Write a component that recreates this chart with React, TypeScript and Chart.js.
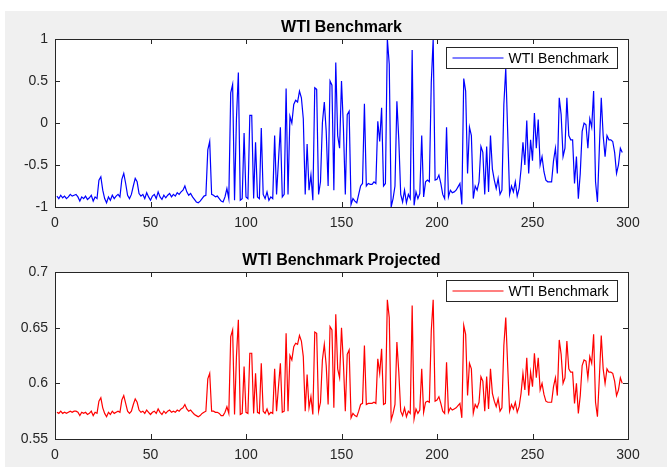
import React, { useEffect, useRef } from "react";
import { Chart, registerables } from "chart.js";

Chart.register(...registerables);

// WTI Benchmark (normalised), sample 1..297
const wtiValues: number[] = [
  -0.87, -0.9, -0.86, -0.89, -0.87, -0.9, -0.88, -0.85, -0.87, -0.86,
  -0.85, -0.88, -0.93, -0.88, -0.9, -0.87, -0.91, -0.89, -0.86, -0.93,
  -0.88, -0.9, -0.68, -0.64, -0.8, -0.9, -0.95, -0.88, -0.92, -0.86,
  -0.9, -0.87, -0.85, -0.88, -0.67, -0.6, -0.72, -0.86, -0.9, -0.85,
  -0.75, -0.66, -0.7, -0.84, -0.87, -0.85, -0.9, -0.83, -0.88, -0.92,
  -0.87, -0.85, -0.9, -0.82, -0.88, -0.91, -0.86, -0.89, -0.86, -0.84,
  -0.88, -0.85, -0.87, -0.83, -0.85, -0.82, -0.8, -0.75, -0.82, -0.86,
  -0.84, -0.88, -0.91, -0.94, -0.95, -0.93, -0.9, -0.87, -0.86, -0.32,
  -0.22, -0.85, -0.86, -0.88, -0.87, -0.9, -0.93, -0.94, -0.88, -0.78,
  -0.9, 0.36, 0.46, -0.92, 0.05, 0.6, -0.92, -0.9, -0.12, -0.88,
  -0.9, 0.09, 0.09, -0.9, -0.23, -0.88, -0.9, -0.06, -0.85, -0.9,
  -0.82, -0.92, -0.88, -0.9, -0.15, -0.85, -0.45, -0.05, -0.88, -0.85,
  0.41, -0.85, 0.08, 0.0, 0.22, 0.27, 0.25, 0.38, 0.3, 0.05,
  -0.85, -0.25, -0.8, -0.62, -0.92, 0.42, 0.4, -0.85, -0.7, 0.0,
  0.25, -0.1, -0.75, 0.5, 0.45, -0.8, 0.72, -0.15, -0.3, 0.5,
  -0.05, -0.85, 0.1, 0.14, -0.97, -0.9, -0.93, -0.95, -0.85, -0.75,
  -0.72, 0.23, -0.75, -0.72, -0.73, -0.73, -0.7, -0.72, 0.02, -0.22,
  0.18, -0.75, -0.72, 1.0, 0.7, -1.0, -0.9, -0.75, 0.26, -0.2,
  -0.85, -0.94, -0.8, -0.95, -0.85, -0.9, 0.87, -0.98, -0.82, -0.9,
  -0.84, -0.15, -0.88, -0.7, -0.68, -0.7, 0.48, 1.0, -0.68, -0.67,
  -0.62, -0.72, -0.85, -0.9, -0.05, -0.88, -0.8, -0.83, -0.82, -0.8,
  -0.76, -0.72, -0.97, 0.53, 0.38, -0.6, -0.05, -0.15, -0.9, -0.75,
  -0.8, -0.7, -0.28, -0.35, -0.85, -0.28, -0.82, -0.15, -0.55, -0.68,
  -0.78, -0.66, -0.85, -0.8, 0.22, 0.65, -0.1, -0.85, -0.75, -0.82,
  -0.7, -0.87, -0.78, -0.55, -0.23, -0.5, 0.03, -0.6, -0.2, -0.45,
  0.12, -0.3, 0.04, -0.5, -0.4, -0.58, -0.68, -0.7, -0.7, -0.7,
  -0.45, -0.3, -0.6, 0.3, 0.1, -0.4, -0.3, 0.3, -0.15, -0.2,
  -0.2, -0.72, -0.4, -0.9, -0.6, -0.1, 0.0, -0.02, -0.3, 0.05,
  -0.05, 0.38, -0.7, -0.94, -0.3, 0.3, -0.15, -0.4, -0.15, -0.2,
  -0.2, -0.22, -0.35, -0.6, -0.5, -0.3, -0.35,
];

// WTI Benchmark Projected, sample 1..297
const projectedValues: number[] = [
  0.574, 0.573, 0.575, 0.573, 0.574, 0.573, 0.574, 0.575, 0.574, 0.575,
  0.575, 0.574, 0.571, 0.574, 0.573, 0.574, 0.572, 0.573, 0.575, 0.571,
  0.574, 0.573, 0.584, 0.587, 0.578, 0.573, 0.57, 0.574, 0.572, 0.575,
  0.573, 0.574, 0.575, 0.574, 0.585, 0.589, 0.582, 0.575, 0.573, 0.575,
  0.581, 0.586, 0.583, 0.576, 0.574, 0.575, 0.573, 0.576, 0.574, 0.572,
  0.574, 0.575, 0.573, 0.577, 0.574, 0.572, 0.575, 0.573, 0.575, 0.576,
  0.574, 0.575, 0.574, 0.576, 0.575, 0.577, 0.578, 0.581, 0.577, 0.575,
  0.576, 0.574, 0.572, 0.571, 0.57, 0.571, 0.573, 0.574, 0.575, 0.604,
  0.609, 0.575, 0.575, 0.574, 0.574, 0.573, 0.571, 0.571, 0.574, 0.579,
  0.573, 0.642, 0.648, 0.572, 0.624, 0.657, 0.572, 0.573, 0.615, 0.574,
  0.573, 0.627, 0.627, 0.573, 0.609, 0.574, 0.573, 0.618, 0.575, 0.573,
  0.577, 0.572, 0.574, 0.573, 0.613, 0.575, 0.597, 0.618, 0.574, 0.575,
  0.645, 0.575, 0.625, 0.621, 0.633, 0.636, 0.635, 0.643, 0.638, 0.624,
  0.575, 0.608, 0.578, 0.588, 0.572, 0.646, 0.645, 0.575, 0.583, 0.621,
  0.635, 0.616, 0.581, 0.651, 0.648, 0.578, 0.662, 0.613, 0.605, 0.65,
  0.618, 0.575, 0.626, 0.63, 0.569, 0.573, 0.571, 0.57, 0.575, 0.581,
  0.582, 0.634, 0.581, 0.582, 0.582, 0.582, 0.583, 0.582, 0.622, 0.609,
  0.631, 0.581, 0.582, 0.675, 0.659, 0.567, 0.573, 0.581, 0.637, 0.61,
  0.575, 0.571, 0.578, 0.57, 0.575, 0.573, 0.67, 0.568, 0.577, 0.573,
  0.576, 0.613, 0.574, 0.583, 0.584, 0.583, 0.647, 0.675, 0.584, 0.585,
  0.588, 0.582, 0.575, 0.573, 0.619, 0.574, 0.578, 0.576, 0.577, 0.578,
  0.58, 0.582, 0.569, 0.652, 0.644, 0.589, 0.618, 0.613, 0.573, 0.581,
  0.578, 0.583, 0.606, 0.602, 0.575, 0.606, 0.577, 0.613, 0.591, 0.584,
  0.579, 0.586, 0.575, 0.578, 0.634, 0.659, 0.616, 0.575, 0.581, 0.577,
  0.583, 0.574, 0.579, 0.591, 0.609, 0.594, 0.623, 0.589, 0.61, 0.597,
  0.627, 0.605, 0.623, 0.594, 0.6, 0.59, 0.584, 0.583, 0.583, 0.583,
  0.597, 0.605, 0.589, 0.639, 0.626, 0.6, 0.605, 0.638, 0.613, 0.61,
  0.61, 0.582, 0.6, 0.573, 0.589, 0.616, 0.621, 0.62, 0.605, 0.624,
  0.618, 0.644, 0.583, 0.57, 0.605, 0.643, 0.613, 0.6, 0.613, 0.61,
  0.61, 0.609, 0.602, 0.589, 0.594, 0.605, 0.6,
];

const xTicks = [0, 50, 100, 150, 200, 250, 300];
const topYTicks = [-1, -0.5, 0, 0.5, 1];
const bottomYTicks = [0.55, 0.6, 0.65, 0.7];
const topTitle = "WTI Benchmark";
const bottomTitle = "WTI Benchmark Projected";
const legendLabel = "WTI Benchmark";

const FONT = "'Liberation Sans', Arial, Helvetica, sans-serif";
const AXIS_COLOR = "#262626";

const matlabPlugin = {
  id: "matlab",
  beforeDraw(chart: any) {
    const { ctx, chartArea: a } = chart;
    ctx.save();
    ctx.fillStyle = "#ffffff";
    ctx.fillRect(a.left, a.top, a.right - a.left, a.bottom - a.top);
    ctx.restore();
  },
  afterDraw(chart: any, _args: any, opts: any) {
    const { ctx, chartArea: a } = chart;
    const xs = chart.scales.x;
    const ys = chart.scales.y;
    ctx.save();
    // box
    ctx.strokeStyle = AXIS_COLOR;
    ctx.lineWidth = 1;
    ctx.strokeRect(Math.round(a.left) + 0.5, Math.round(a.top) + 0.5, Math.round(a.right - a.left), Math.round(a.bottom - a.top));
    // inward ticks
    const tl = 5;
    ctx.beginPath();
    (opts.xTicks as number[]).forEach((v) => {
      const px = Math.round(xs.getPixelForValue(v)) + 0.5;
      ctx.moveTo(px, a.bottom);
      ctx.lineTo(px, a.bottom - tl);
      ctx.moveTo(px, a.top);
      ctx.lineTo(px, a.top + tl);
    });
    (opts.yTicks as number[]).forEach((v) => {
      const py = Math.round(ys.getPixelForValue(v)) + 0.5;
      ctx.moveTo(a.left, py);
      ctx.lineTo(a.left + tl, py);
      ctx.moveTo(a.right, py);
      ctx.lineTo(a.right - tl, py);
    });
    ctx.stroke();
    // title
    ctx.fillStyle = "#000000";
    ctx.font = `bold 16px ${FONT}`;
    ctx.textAlign = "center";
    ctx.textBaseline = "middle";
    ctx.fillText(opts.title, (a.left + a.right) / 2, a.top - 11);
    // legend
    const bw = 171;
    const bh = 21;
    const bx = Math.round(a.right - 11 - bw) + 0.5;
    const by = Math.round(a.top + 8) + 0.5;
    ctx.fillStyle = "#ffffff";
    ctx.fillRect(bx, by, bw, bh);
    ctx.strokeStyle = AXIS_COLOR;
    ctx.strokeRect(bx, by, bw, bh);
    ctx.strokeStyle = opts.color;
    ctx.lineWidth = 1.2;
    ctx.beginPath();
    ctx.moveTo(bx + 6, by + bh / 2);
    ctx.lineTo(bx + 57, by + bh / 2);
    ctx.stroke();
    ctx.fillStyle = "#000000";
    ctx.font = `14px ${FONT}`;
    ctx.textAlign = "left";
    ctx.fillText(opts.label, bx + 62, by + bh / 2 + 1);
    ctx.restore();
  },
};

function makeChart(
  canvas: HTMLCanvasElement,
  values: number[],
  color: string,
  yMin: number,
  yMax: number,
  yStep: number,
  yTicks: number[],
  title: string,
  xAxisHeight: number
) {
  const points = values.map((v, i) => ({ x: i + 1, y: v }));
  return new Chart(canvas, {
    type: "line",
    data: {
      datasets: [
        {
          label: legendLabel,
          data: points,
          borderColor: color,
          borderWidth: 1.2,
          pointRadius: 0,
          tension: 0,
          fill: false,
        },
      ],
    },
    options: {
      animation: false,
      responsive: false,
      events: [],
      layout: { padding: { top: 39, right: 39, left: 0, bottom: 0 } },
      scales: {
        x: {
          type: "linear",
          min: 0,
          max: 300,
          grid: { display: false, drawTicks: false },
          border: { display: false },
          ticks: { stepSize: 50, color: AXIS_COLOR, font: { family: FONT, size: 14 }, padding: 8, maxRotation: 0 },
          afterFit: (s: any) => {
            s.height = xAxisHeight;
          },
        },
        y: {
          type: "linear",
          min: yMin,
          max: yMax,
          grid: { display: false, drawTicks: false },
          border: { display: false },
          ticks: {
            stepSize: yStep,
            color: AXIS_COLOR,
            font: { family: FONT, size: 14 },
            padding: 7,
            callback: (v: any) => String(+Number(v).toFixed(2)),
          },
          afterFit: (s: any) => {
            s.width = 55;
          },
        },
      },
      plugins: {
        legend: { display: false },
        title: { display: false },
        tooltip: { enabled: false },
        matlab: { title, label: legendLabel, color, xTicks, yTicks },
      } as any,
    },
    plugins: [matlabPlugin],
  } as any);
}

export default function App() {
  const topRef = useRef<HTMLCanvasElement>(null);
  const bottomRef = useRef<HTMLCanvasElement>(null);

  useEffect(() => {
    const c1 = makeChart(topRef.current!, wtiValues, "#0000ff", -1, 1, 0.5, topYTicks, topTitle, 26);
    const c2 = makeChart(bottomRef.current!, projectedValues, "#ff0000", 0.55, 0.7, 0.05, bottomYTicks, bottomTitle, 28);
    return () => {
      c1.destroy();
      c2.destroy();
    };
  }, []);

  return (
    <div style={{ position: "fixed", left: 0, top: 0, width: 667, height: 467, background: "#ffffff", overflow: "hidden" }}>
      <div style={{ position: "absolute", left: 5, top: 11, right: 0, bottom: 0, background: "#f0f0f0" }} />
      <canvas ref={topRef} width={667} height={233} style={{ position: "absolute", left: 0, top: 0, width: 667, height: 233 }} />
      <canvas ref={bottomRef} width={667} height={234} style={{ position: "absolute", left: 0, top: 233, width: 667, height: 234 }} />
    </div>
  );
}
